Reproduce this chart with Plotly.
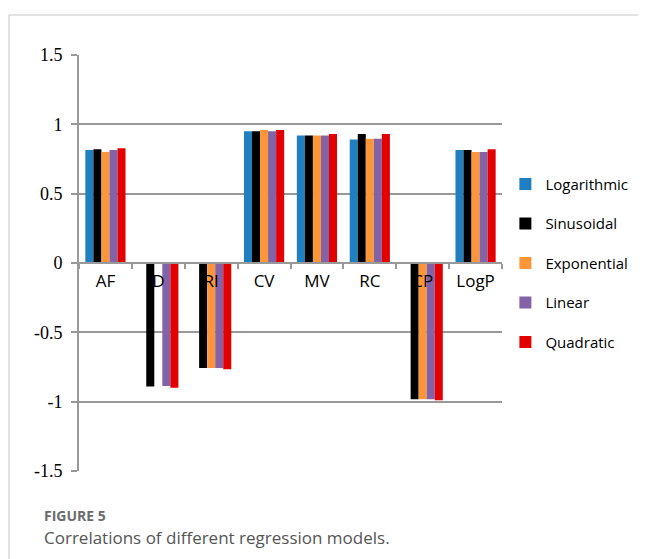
import plotly.graph_objects as go

categories = ["AF", "D", "RI", "CV", "MV", "RC", "CP", "LogP"]
logarithmic = [0.815, None, None, 0.95, 0.92, 0.89, None, 0.815]
sinusoidal = [0.82, -0.89, -0.757, 0.95, 0.92, 0.93, -0.983, 0.815]
exponential = [0.80, None, -0.757, 0.96, 0.92, 0.896, -0.983, 0.80]
linear = [0.815, -0.887, -0.757, 0.95, 0.92, 0.896, -0.983, 0.80]
quadratic = [0.827, -0.90, -0.766, 0.96, 0.93, 0.93, -0.99, 0.82]

series = [
    ("Logarithmic", logarithmic, "#1f7fc1"),
    ("Sinusoidal", sinusoidal, "#000000"),
    ("Exponential", exponential, "#fd9639"),
    ("Linear", linear, "#8462a7"),
    ("Quadratic", quadratic, "#e30000"),
]

y_ticks = [1.5, 1, 0.5, 0, -0.5, -1, -1.5]
y_tick_labels = ["1.5", "1", "0.5", "0", "-0.5", "-1", "-1.5"]

fig = go.Figure()
for i, (name, vals, color) in enumerate(series):
    fig.add_trace(go.Bar(x=categories, y=vals, name=name, marker_color=color,
                         marker_line_width=0, legendgroup=name))

fig.update_layout(
    width=638, height=551,
    margin=dict(l=71, r=144, t=47, b=88, autoexpand=False),
    paper_bgcolor="white", plot_bgcolor="white",
    barmode="group", bargap=0.24, bargroupgap=0,
    showlegend=True,
    legend=dict(x=1.008, y=0.729, xanchor="left", yanchor="top",
                bgcolor="rgba(0,0,0,0)",
                font=dict(family="Open Sans, Liberation Sans, sans-serif", size=15, color="#000"),
                traceorder="grouped", tracegroupgap=17, itemwidth=30),
    xaxis=dict(anchor="free", position=0.5, showline=True, linecolor="#999", linewidth=2,
               ticks="outside", tickson="boundaries", ticklen=5, tickcolor="#999", tickwidth=2,
               ticklabelstandoff=3,
               tickfont=dict(family="Open Sans, Liberation Sans, sans-serif", size=17, color="#000"),
               showgrid=False, layer="above traces", fixedrange=True),
    yaxis=dict(range=[-1.5, 1.5], tickvals=y_ticks, ticktext=y_tick_labels,
               showgrid=True, gridcolor="#999", gridwidth=2, zeroline=False,
               showline=True, linecolor="#999", linewidth=2,
               ticks="outside", ticklen=6, tickcolor="#999", tickwidth=2,
               ticklabelstandoff=5,
               tickfont=dict(family="Liberation Serif, Times New Roman, serif", size=18, color="#000"),
               layer="below traces"),
)

# frame
fig.add_shape(type="line", xref="paper", yref="paper", x0=-0.1655, x1=1.4, y0=1.096, y1=1.096,
              line=dict(color="#d8d8d8", width=1.5))
fig.add_shape(type="line", xref="paper", yref="paper", x0=-0.1655, x1=-0.1655, y0=1.096, y1=-0.25,
              line=dict(color="#d8d8d8", width=1.5))

fig.add_annotation(xref="paper", yref="paper", x=-0.0875, y=-0.108, xanchor="left", yanchor="middle",
                   text="<b>FIGURE 5</b>", showarrow=False,
                   font=dict(family="Open Sans, sans-serif", size=14, color="#6b6b6b"))
fig.add_annotation(xref="paper", yref="paper", x=-0.0875, y=-0.160, xanchor="left", yanchor="middle",
                   text="Correlations of different regression models.", showarrow=False,
                   font=dict(family="Open Sans, sans-serif", size=17, color="#555"))

fig.write_html("out.html")
